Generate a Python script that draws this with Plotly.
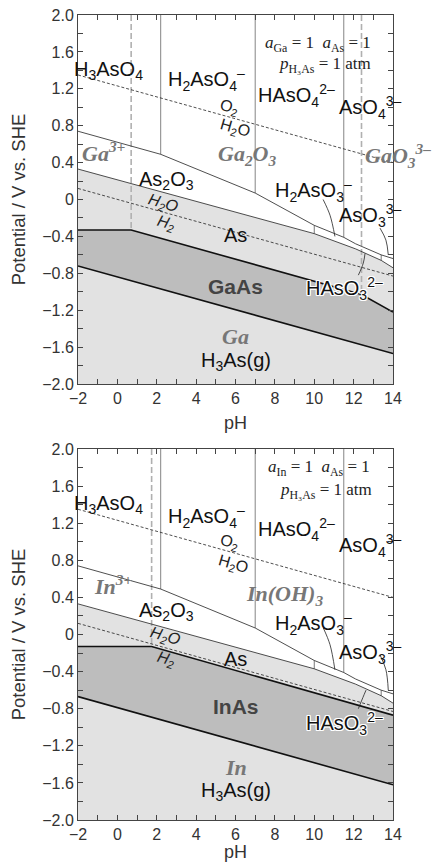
import plotly.graph_objects as go

# ---------------- data (pH, E / V vs SHE) ----------------
ph_range = [-2, 14]
e_range = [-2.0, 2.0]
x_tickvals = [-2, 0, 2, 4, 6, 8, 10, 12, 14]
x_ticktext = ["\u22122", "0", "2", "4", "6", "8", "10", "12", "14"]
y_tickvals = [2.0, 1.6, 1.2, 0.8, 0.4, 0.0, -0.4, -0.8, -1.2, -1.6, -2.0]
y_ticktext = ["2.0", "1.6", "1.2", "0.8", "0.4", "0", "\u22120.4", "\u22120.8",
              "\u22121.2", "\u22121.6", "\u22122.0"]

# water stability lines
water_ph = [-2, 14]
o2_e = [1.35, 0.40]
h2_e = [0.12, -0.83]

# As(V)/As(III) boundary
asv_ph = [-2, 2.2, 7, 9.2, 10, 11.5, 12.1, 13.4, 14]
asv_e = [0.74, 0.49, 0.07, -0.19, -0.28, -0.41, -0.48, -0.60, -0.64]
# As(III)/As boundary
as_ph = [-2, 10, 12.1, 13.4, 14]
as_e = [0.33, -0.37, -0.535, -0.66, -0.74]

# As(V) acid-base verticals: pH, lower end E
asv_vert_ph = [2.2, 7, 11.5]
asv_vert_e = [0.49, 0.07, -0.41]
# As(III) small ticks: pH, lower E, upper E
as3_tick_ph = [10, 13.4]
as3_tick_lo = [-0.37, -0.66]
as3_tick_hi = [-0.28, -0.60]

# GaAs
gaas_top_ph = [-2, 0.7, 12.4, 14]
gaas_top_e = [-0.33, -0.33, -1.03, -1.22]
gaas_bot_ph = [-2, 14]
gaas_bot_e = [-0.72, -1.67]
ga_vert_ph = [0.7, 12.4]
ga_vert_e = [-0.33, -1.03]

# InAs
inas_top_ph = [-2, 1.74, 14]
inas_top_e = [-0.13, -0.13, -0.87]
inas_bot_ph = [-2, 14]
inas_bot_e = [-0.67, -1.62]
in_vert_ph = [1.74]
in_vert_e = [-0.13]

# leader lines (pH, E)
lead_top = {
    "h2aso3": ([10.45, 10.8, 11.05], [0.0, -0.17, -0.40]),
    "aso3": ([13.34, 13.64, 13.76], [-0.31, -0.44, -0.60]),
    "haso3": ([12.24, 12.49, 12.58], [-0.82, -0.69, -0.585]),
}
lead_bot = {
    "h2aso3": ([10.46, 10.8, 11.05], [0.07, -0.11, -0.38]),
    "aso3": ([13.34, 13.64, 13.76], [-0.22, -0.38, -0.60]),
    "haso3": ([12.24, 12.47, 12.63], [-0.80, -0.68, -0.60]),
}

# labels: (text, pH, E, style, anchor)
labels_top = [
    ("H<sub>3</sub>AsO<sub>4</sub>", -0.45, 1.40, "sp", "center"),
    ("H<sub>2</sub>AsO<sub>4</sub><sup>\u2013</sup>", 4.55, 1.30, "sp", "center"),
    ("HAsO<sub>4</sub><sup>2\u2013</sup>", 9.1, 1.13, "sp", "center"),
    ("AsO<sub>4</sub><sup>3\u2013</sup>", 12.85, 1.00, "sp", "center"),
    ("As<sub>2</sub>O<sub>3</sub>", 2.5, 0.21, "sp", "center"),
    ("H<sub>2</sub>AsO<sub>3</sub><sup>\u2013</sup>", 9.95, 0.10, "sp", "center"),
    ("AsO<sub>3</sub><sup>3\u2013</sup>", 12.85, -0.17, "sp", "center"),
    ("As", 6.0, -0.39, "sp", "center"),
    ("HAsO<sub>3</sub><sup>2\u2013</sup>", 11.56, -0.96, "halo", "center"),
    ("H<sub>3</sub>As(g)", 6.0, -1.76, "sp", "center"),
    ("<b>GaAs</b>", 6.0, -0.94, "bold", "center"),
    ("Ga<sup>3+</sup>", -0.7, 0.51, "metal", "center"),
    ("Ga<sub>2</sub>O<sub>3</sub>", 6.6, 0.48, "metal", "center"),
    ("GaO<sub>3</sub><sup>3\u2013</sup>", 12.55, 0.48, "metal", "left"),
    ("Ga", 6.0, -1.49, "metal", "center"),
    ("O<sub>2</sub>", 5.7, 1.00, "wat", "center"),
    ("H<sub>2</sub>O", 5.97, 0.77, "wat", "center"),
    ("<i>H<sub>2</sub>O</i>", 2.3, -0.04, "wat", "center"),
    ("<i>H<sub>2</sub></i>", 2.5, -0.26, "wat", "center"),
    ("<i>a</i><sub>Ga</sub> = 1\u2002<i>a</i><sub>As</sub> = 1", 10.2, 1.69, "cond", "center"),
    ("<i>p</i><sub>H\u2083As</sub> = 1 atm", 10.55, 1.46, "cond", "center"),
]
labels_bot = [
    ("H<sub>3</sub>AsO<sub>4</sub>", -0.45, 1.40, "sp", "center"),
    ("H<sub>2</sub>AsO<sub>4</sub><sup>\u2013</sup>", 4.55, 1.27, "sp", "center"),
    ("HAsO<sub>4</sub><sup>2\u2013</sup>", 9.1, 1.13, "sp", "center"),
    ("AsO<sub>4</sub><sup>3\u2013</sup>", 12.85, 0.96, "sp", "center"),
    ("As<sub>2</sub>O<sub>3</sub>", 2.5, 0.25, "sp", "center"),
    ("H<sub>2</sub>AsO<sub>3</sub><sup>\u2013</sup>", 9.95, 0.12, "sp", "center"),
    ("AsO<sub>3</sub><sup>3\u2013</sup>", 12.85, -0.19, "sp", "center"),
    ("As", 6.0, -0.26, "sp", "center"),
    ("HAsO<sub>3</sub><sup>2\u2013</sup>", 11.56, -0.96, "halo", "center"),
    ("H<sub>3</sub>As(g)", 6.0, -1.69, "sp", "center"),
    ("<b>InAs</b>", 6.0, -0.78, "bold", "center"),
    ("In<sup>3+</sup>", -0.2, 0.53, "metal", "center"),
    ("In(OH)<sub>3</sub>", 8.5, 0.43, "metal", "center"),
    ("In", 6.0, -1.43, "metal", "center"),
    ("O<sub>2</sub>", 5.7, 0.99, "wat", "center"),
    ("H<sub>2</sub>O", 5.85, 0.75, "wat", "center"),
    ("<i>H<sub>2</sub>O</i>", 2.4, -0.02, "wat", "center"),
    ("<i>H<sub>2</sub></i>", 2.5, -0.27, "wat", "center"),
    ("<i>a</i><sub>In</sub> = 1\u2002<i>a</i><sub>As</sub> = 1", 10.25, 1.79, "cond", "center"),
    ("<i>p</i><sub>H\u2083As</sub> = 1 atm", 10.6, 1.55, "cond", "center"),
]

# ---------------- styles ----------------
LIGHT = "#e2e2e2"
DARK = "#bdbdbd"
SANS = "Liberation Sans, Arial, sans-serif"
SERIF = "Liberation Serif, Times New Roman, serif"
HALO = ("1px 1px 0 white, -1px -1px 0 white, 1px -1px 0 white, -1px 1px 0 white,"
        " 0 1px 0 white, 0 -1px 0 white, 1px 0 0 white, -1px 0 0 white")

fig = go.Figure()


def add_panel(xa, ya, top_ph, top_e, bot_ph, bot_e, metal_vph, metal_ve, leads, labels):
    fig.add_trace(go.Scatter(x=as_ph + [14, -2], y=as_e + [-2, -2], fill="toself",
                             fillcolor=LIGHT, line=dict(width=0), mode="lines",
                             xaxis=xa, yaxis=ya, hoverinfo="skip"))
    fig.add_trace(go.Scatter(x=top_ph + bot_ph[::-1], y=top_e + bot_e[::-1], fill="toself",
                             fillcolor=DARK, line=dict(width=0), mode="lines",
                             xaxis=xa, yaxis=ya, hoverinfo="skip"))
    for p, e in zip(metal_vph, metal_ve):
        fig.add_trace(go.Scatter(x=[p, p], y=[2.0, e], mode="lines",
                                 line=dict(color="#b0b0b0", width=1.6, dash="6px,3px"),
                                 xaxis=xa, yaxis=ya, hoverinfo="skip"))
    for p, e in zip(asv_vert_ph, asv_vert_e):
        fig.add_trace(go.Scatter(x=[p, p], y=[2.0, e], mode="lines",
                                 line=dict(color="#777777", width=0.9),
                                 xaxis=xa, yaxis=ya, hoverinfo="skip"))
    for p, lo, hi in zip(as3_tick_ph, as3_tick_lo, as3_tick_hi):
        fig.add_trace(go.Scatter(x=[p, p], y=[lo, hi], mode="lines",
                                 line=dict(color="#555555", width=0.8),
                                 xaxis=xa, yaxis=ya, hoverinfo="skip"))
    for ev in (o2_e, h2_e):
        fig.add_trace(go.Scatter(x=water_ph, y=ev, mode="lines",
                                 line=dict(color="#222222", width=0.8, dash="3px,2px"),
                                 xaxis=xa, yaxis=ya, hoverinfo="skip"))
    fig.add_trace(go.Scatter(x=asv_ph, y=asv_e, mode="lines",
                             line=dict(color="#222222", width=0.8),
                             xaxis=xa, yaxis=ya, hoverinfo="skip"))
    fig.add_trace(go.Scatter(x=as_ph, y=as_e, mode="lines",
                             line=dict(color="#222222", width=0.8),
                             xaxis=xa, yaxis=ya, hoverinfo="skip"))
    fig.add_trace(go.Scatter(x=top_ph, y=top_e, mode="lines",
                             line=dict(color="#111111", width=1.6),
                             xaxis=xa, yaxis=ya, hoverinfo="skip"))
    fig.add_trace(go.Scatter(x=bot_ph, y=bot_e, mode="lines",
                             line=dict(color="#111111", width=1.6),
                             xaxis=xa, yaxis=ya, hoverinfo="skip"))
    for k, (lx, ly) in leads.items():
        fig.add_trace(go.Scatter(x=lx, y=ly, mode="lines",
                                 line=dict(color="#222222", width=0.8, shape="spline"),
                                 xaxis=xa, yaxis=ya, hoverinfo="skip"))
    for txt, p, e, st, anc in labels:
        ang = 0
        if st == "sp":
            font = dict(family=SANS, size=20, color="#111111")
        elif st == "halo":
            font = dict(family=SANS, size=20, color="#111111", shadow=HALO)
        elif st == "bold":
            font = dict(family=SANS, size=21, color="#444444")
        elif st == "metal":
            font = dict(family=SERIF, size=22, color="#777777", weight="bold", style="italic")
        elif st == "wat":
            font = dict(family=SANS, size=16, color="#222222")
            ang = 16
        else:
            font = dict(family=SERIF, size=17, color="#222222")
        fig.add_annotation(x=p, y=e, xref=xa, yref=ya, text=txt, showarrow=False,
                           font=font, textangle=ang, xanchor=anc, borderpad=0)


add_panel("x", "y", gaas_top_ph, gaas_top_e, gaas_bot_ph, gaas_bot_e,
          ga_vert_ph, ga_vert_e, lead_top, labels_top)
add_panel("x2", "y2", inas_top_ph, inas_top_e, inas_bot_ph, inas_bot_e,
          in_vert_ph, in_vert_e, lead_bot, labels_bot)

axis_font = dict(family=SANS, size=16, color="#333333")
xcommon = dict(range=ph_range, tickvals=x_tickvals, ticktext=x_ticktext,
               ticks="inside", ticklen=5, tickcolor="#444444", showline=True,
               linecolor="#444444", linewidth=1, mirror="ticks", showgrid=False,
               zeroline=False, tickfont=axis_font, automargin=False,
               minor=dict(dtick=1, ticks="inside", ticklen=5, tickcolor="#444444"),
               title=dict(text="pH", font=dict(family=SANS, size=18, color="#333333"),
                          standoff=10))
ycommon = dict(range=e_range, tickvals=y_tickvals, ticktext=y_ticktext,
               ticks="inside", ticklen=5, tickcolor="#444444", showline=True,
               linecolor="#444444", linewidth=1, mirror="ticks", showgrid=False,
               zeroline=False, tickfont=axis_font, automargin=False,
               minor=dict(dtick=0.2, ticks="inside", ticklen=5, tickcolor="#444444"),
               title=dict(text="Potential / V vs. SHE",
                          font=dict(family=SANS, size=18.5, color="#333333"), standoff=11))

fig.update_layout(
    width=436, height=862,
    margin=dict(l=78, r=43, t=15, b=42, autoexpand=False),
    paper_bgcolor="white", plot_bgcolor="white",
    showlegend=False,
    xaxis=dict(domain=[0, 1], anchor="y", **xcommon),
    yaxis=dict(domain=[0.5416, 1.0], anchor="x", **ycommon),
    xaxis2=dict(domain=[0, 1], anchor="y2", **xcommon),
    yaxis2=dict(domain=[0.0, 0.4609], anchor="x2", **ycommon),
)

fig.write_html("out.html", config={"displayModeBar": False},
               post_script="document.body.style.margin='0';document.body.style.overflow='hidden';")
